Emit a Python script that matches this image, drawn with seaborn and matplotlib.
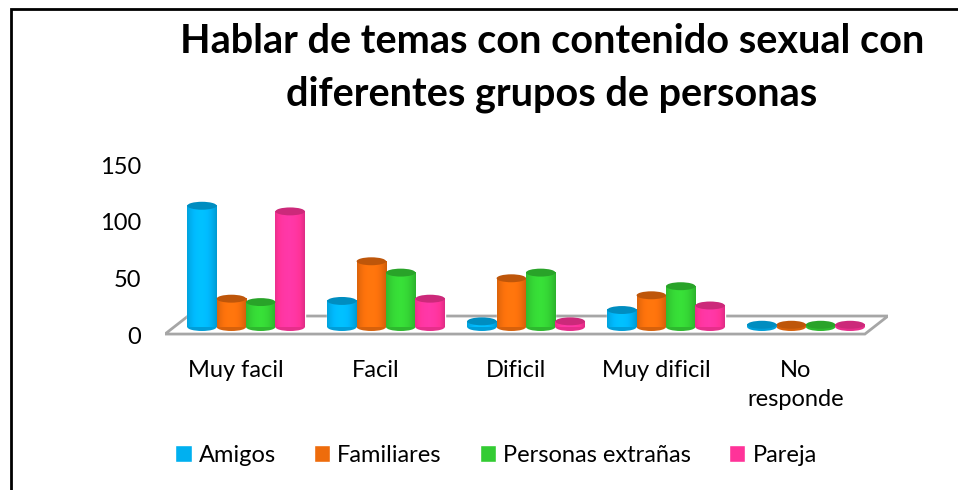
import matplotlib
matplotlib.use("Agg")
import matplotlib.pyplot as plt
import matplotlib.colors as mcolors
from matplotlib.patches import Ellipse, Polygon, Rectangle
import matplotlib.transforms as mtransforms
import numpy as np
import pandas as pd
import seaborn as sns

# Data
categories = ["Muy facil", "Facil", "Dificil", "Muy dificil", "No\nresponde"]
groups = ["Amigos", "Familiares", "Personas extrañas", "Pareja"]
amigos = [107, 23, 5, 15, 2]
familiares = [25, 58, 43, 28, 2]
extranas = [22, 48, 48, 36, 2]
pareja = [102, 25, 5, 19, 2]
colors = ["#00B0F0", "#EE6C0C", "#33CC33", "#FF3399"]
title = "Hablar de temas con contenido sexual con\ndiferentes grupos de personas"

df = pd.DataFrame({
    "categoria": categories * 4,
    "grupo": np.repeat(groups, len(categories)),
    "valor": amigos + familiares + extranas + pareja,
})

sns.set_style("white")
plt.rcParams["font.family"] = ["Lato", "DejaVu Sans"]
plt.rcParams["text.color"] = "black"
plt.rcParams["xtick.color"] = "black"
plt.rcParams["ytick.color"] = "black"

fig = plt.figure(figsize=(9.58, 4.9), dpi=100)
# bar base at about 327 px from the top, 1.133 px per unit
ax = fig.add_axes([165 / 958, 1 - 336.2 / 490, 723 / 958, 179.2 / 490])

sns.barplot(data=df, x="categoria", y="valor", hue="grupo", order=categories,
            hue_order=groups, palette=colors, width=0.84, saturation=1,
            legend=True, ax=ax, zorder=3)

ax.get_legend().remove()
sns.despine(ax=ax, left=True, bottom=True)
ax.set_xlabel("")
ax.set_ylabel("")

# cylinder look: shaded body + caps
profile = np.linspace(0, 1, 60)
shade = 0.78 + 0.32 * np.sin(np.pi * (profile * 0.85 + 0.1)) ** 0.7
cap_h = 7
for bar in list(ax.patches):
    if not isinstance(bar, Rectangle) or bar.get_height() <= 0:
        continue
    fc = np.array(mcolors.to_rgb(bar.get_facecolor()))
    x0 = bar.get_x()
    w = bar.get_width()
    h = bar.get_height()
    body = np.clip(fc[None, None, :] * shade[None, :, None], 0, 1)
    ax.imshow(body, extent=[x0, x0 + w, 0, h], aspect="auto", zorder=3.1,
              interpolation="bilinear")
    ax.add_patch(Ellipse((x0 + w / 2, 0), w, cap_h, facecolor=fc * 0.9,
                         edgecolor="none", zorder=3))
    ax.add_patch(Ellipse((x0 + w / 2, h), w, cap_h, facecolor=fc * 0.8,
                         edgecolor="none", zorder=4))

ax.set_xlim(-0.579, 4.586)
ax.set_ylim(-8.1, 150)
ax.set_yticks([0, 50, 100, 150])
ax.tick_params(axis="both", length=0, labelsize=17)
ax.tick_params(axis="y", pad=17)
ax.tick_params(axis="x", pad=17)
xshift = mtransforms.ScaledTranslation(-10 / 100, 0, fig.dpi_scale_trans)
for lbl in ax.get_xticklabels():
    lbl.set_transform(lbl.get_transform() + xshift)
    lbl.set_linespacing(1.5)
# axis labels sit on the front edge of the floor
yshift = mtransforms.ScaledTranslation(0, -8 / 100, fig.dpi_scale_trans)
for lbl in ax.get_yticklabels():
    lbl.set_transform(lbl.get_transform() + yshift)

# floor of the pseudo-3D chart
floor = Polygon([(-0.579, -6.2), (4.421, -6.2), (4.586, 9.7), (-0.414, 9.7)],
                closed=True, facecolor="white", edgecolor="#a6a6a6", lw=2, zorder=1)
ax.add_patch(floor)

handles = [Rectangle((0, 0), 1, 1, facecolor=c) for c in colors]
fig.legend(handles, groups, loc="center", bbox_to_anchor=(496 / 958, 1 - 455 / 490),
           ncol=4, frameon=False, fontsize=17, handlelength=0.7, handleheight=0.7,
           handletextpad=0.3, columnspacing=1.6)

fig.text(552 / 958, 1 - 68 / 490, title, ha="center", va="center",
         fontsize=28.5, fontweight="bold", linespacing=1.5)

# chart frame (only top and left edges visible in the reference)
fig.add_artist(Rectangle((11 / 958, -0.1), 1.2, 1 - 9 / 490 + 0.1,
                         transform=fig.transFigure, facecolor="none",
                         edgecolor="black", lw=2))

fig.savefig("out.png", dpi=100)
